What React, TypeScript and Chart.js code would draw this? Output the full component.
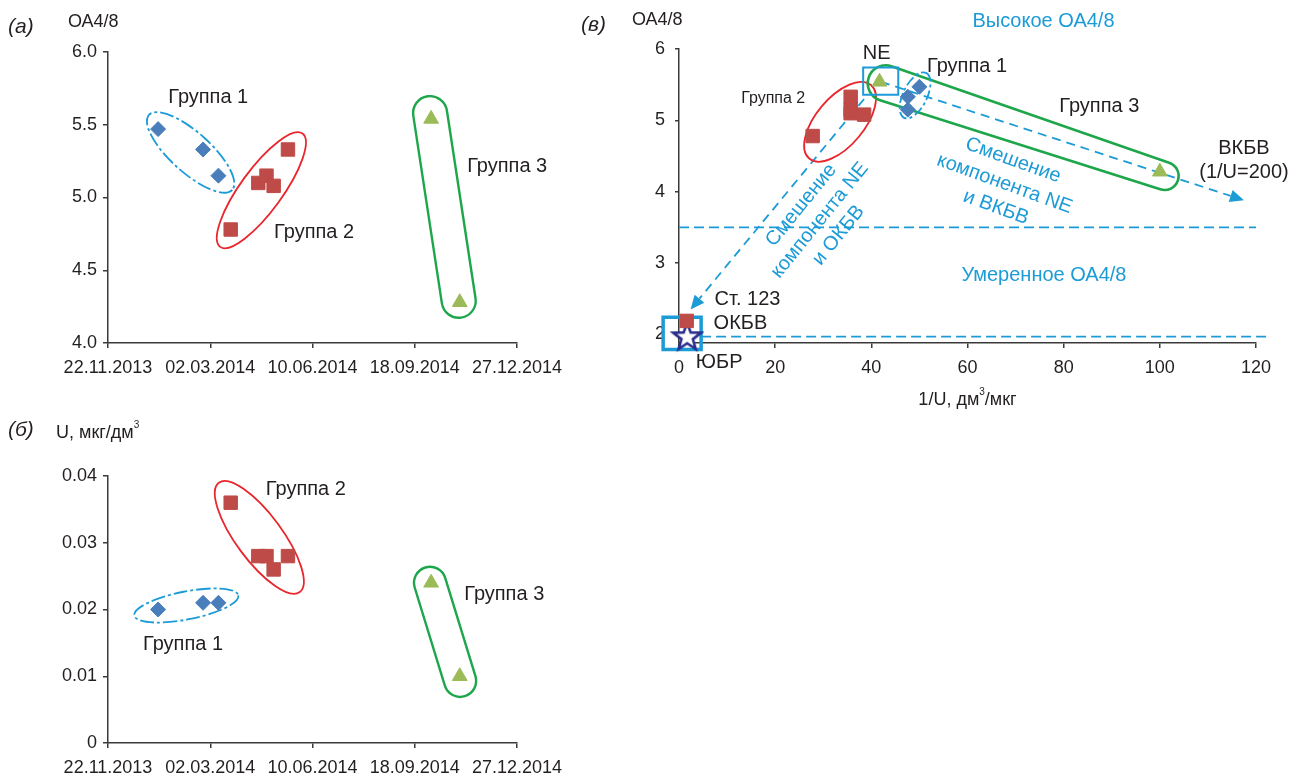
import React, { useEffect, useRef } from 'react';
import { Chart, registerables } from 'chart.js';
Chart.register(...registerables);

// ---------- data ----------
const dateTickLabels = ['22.11.2013', '02.03.2014', '10.06.2014', '18.09.2014', '27.12.2014'];

const group1Dates = ['10.01.2014', '23.02.2014', '10.03.2014'];
const group1OA = [5.47, 5.33, 5.15];
const group1U = [0.02, 0.021, 0.021];
const group1InvU = [50, 47.6, 47.6];

const group2Dates = ['22.03.2014', '18.04.2014', '26.04.2014', '03.05.2014', '17.05.2014'];
const group2OA = [4.78, 5.1, 5.15, 5.08, 5.33];
const group2U = [0.036, 0.028, 0.028, 0.026, 0.028];
const group2InvU = [27.8, 35.7, 35.7, 38.5, 35.7];

const group3Dates = ['04.10.2014', '01.11.2014'];
const group3OA = [5.54, 4.28];
const group3U = [0.024, 0.01];
const group3InvU = [41.7, 100];

const st123InvU = [1.6];
const st123OA = [2.19];
const yubrInvU = [1.7];
const yubrOA = [1.96];

const oaTicksA = [4.0, 4.5, 5.0, 5.5, 6.0];
const uTicksB = [0, 0.01, 0.02, 0.03, 0.04];
const invUTicksC = [0, 20, 40, 60, 80, 100, 120];
const oaTicksC = [2, 3, 4, 5, 6];

// ---------- style ----------
const FONT = "'Liberation Sans', Arial, Helvetica, sans-serif";
const TEXT = '#231f20';
const AXIS = '#3a3a3a';
const C_BLUE_PT = '#4a7ebb';
const C_RED_PT = '#be4b48';
const C_GREEN_PT = '#9bbb59';
const L_BLUE = '#1c9bd7';
const L_RED = '#e8262c';
const L_GREEN = '#1ea64b';

const parseDate = (s: string) => {
  const [d, m, y] = s.split('.').map(Number);
  return Date.UTC(y, m - 1, d);
};
const ORIGIN = parseDate(dateTickLabels[0]);
const dayOf = (s: string) => Math.round((parseDate(s) - ORIGIN) / 86400000);

// ---------- drawing helpers ----------
const P = (chart: any, x: number, y: number): [number, number] => [
  chart.scales.x.getPixelForValue(x),
  chart.scales.y.getPixelForValue(y),
];

function ellipse(ctx: CanvasRenderingContext2D, c: [number, number], a: number, b: number, deg: number, color: string, lw: number, dash: number[] = []) {
  ctx.beginPath();
  ctx.ellipse(c[0], c[1], a, b, (deg * Math.PI) / 180, 0, Math.PI * 2);
  ctx.strokeStyle = color;
  ctx.lineWidth = lw;
  ctx.setLineDash(dash);
  ctx.stroke();
  ctx.setLineDash([]);
}

function capsule(ctx: CanvasRenderingContext2D, p1: [number, number], p2: [number, number], r1: number, r2: number, color: string, lw: number) {
  const ang = Math.atan2(p2[1] - p1[1], p2[0] - p1[0]);
  ctx.beginPath();
  ctx.arc(p1[0], p1[1], r1, ang + Math.PI / 2, ang + (3 * Math.PI) / 2);
  ctx.arc(p2[0], p2[1], r2, ang - Math.PI / 2, ang + Math.PI / 2);
  ctx.closePath();
  ctx.strokeStyle = color;
  ctx.lineWidth = lw;
  ctx.setLineDash([]);
  ctx.stroke();
}

function rectBox(ctx: CanvasRenderingContext2D, p1: [number, number], p2: [number, number], color: string, lw: number) {
  ctx.beginPath();
  ctx.rect(Math.min(p1[0], p2[0]), Math.min(p1[1], p2[1]), Math.abs(p2[0] - p1[0]), Math.abs(p2[1] - p1[1]));
  ctx.strokeStyle = color;
  ctx.lineWidth = lw;
  ctx.setLineDash([]);
  ctx.stroke();
}

function dashedLine(ctx: CanvasRenderingContext2D, p1: [number, number], p2: [number, number], color: string, lw: number, dash: number[]) {
  ctx.beginPath();
  ctx.moveTo(p1[0], p1[1]);
  ctx.lineTo(p2[0], p2[1]);
  ctx.strokeStyle = color;
  ctx.lineWidth = lw;
  ctx.setLineDash(dash);
  ctx.stroke();
  ctx.setLineDash([]);
}

function arrow(ctx: CanvasRenderingContext2D, p1: [number, number], p2: [number, number], color: string, lw: number, dash: number[], head = 14) {
  const ang = Math.atan2(p2[1] - p1[1], p2[0] - p1[0]);
  const hx = p2[0] - head * Math.cos(ang);
  const hy = p2[1] - head * Math.sin(ang);
  dashedLine(ctx, p1, [hx, hy], color, lw, dash);
  const w = head * 0.45;
  ctx.beginPath();
  ctx.moveTo(p2[0], p2[1]);
  ctx.lineTo(hx + w * Math.cos(ang + Math.PI / 2), hy + w * Math.sin(ang + Math.PI / 2));
  ctx.lineTo(hx - w * Math.cos(ang + Math.PI / 2), hy - w * Math.sin(ang + Math.PI / 2));
  ctx.closePath();
  ctx.fillStyle = color;
  ctx.fill();
}

function label(ctx: CanvasRenderingContext2D, s: string, x: number, y: number, opts: any = {}) {
  const { size = 20, color = TEXT, align = 'center', rot = 0, style = '' } = opts;
  ctx.save();
  ctx.translate(x, y);
  ctx.rotate((rot * Math.PI) / 180);
  ctx.font = `${style} ${size}px ${FONT}`;
  ctx.fillStyle = color;
  ctx.textAlign = align;
  ctx.textBaseline = 'middle';
  ctx.fillText(s, 0, 0);
  ctx.restore();
}

function labelWithSup(ctx: CanvasRenderingContext2D, parts: [string, string, string], x: number, y: number, size: number, align: 'left' | 'center') {
  ctx.save();
  ctx.font = `${size}px ${FONT}`;
  const w1 = ctx.measureText(parts[0]).width;
  const w3 = ctx.measureText(parts[2]).width;
  ctx.font = `${Math.round(size * 0.55)}px ${FONT}`;
  const w2 = ctx.measureText(parts[1]).width;
  const total = w1 + w2 + w3;
  const x0 = align === 'center' ? x - total / 2 : x;
  ctx.fillStyle = TEXT;
  ctx.textBaseline = 'middle';
  ctx.textAlign = 'left';
  ctx.font = `${size}px ${FONT}`;
  ctx.fillText(parts[0], x0, y);
  ctx.font = `${Math.round(size * 0.55)}px ${FONT}`;
  ctx.fillText(parts[1], x0 + w1, y - size * 0.42);
  ctx.font = `${size}px ${FONT}`;
  ctx.fillText(parts[2], x0 + w1 + w2, y);
  ctx.restore();
}

function rotatedBlock(ctx: CanvasRenderingContext2D, lines: string[], center: [number, number], rot: number, spacing: number, size: number, color: string) {
  ctx.save();
  ctx.translate(center[0], center[1]);
  ctx.rotate((rot * Math.PI) / 180);
  ctx.font = `${size}px ${FONT}`;
  ctx.fillStyle = color;
  ctx.textAlign = 'center';
  ctx.textBaseline = 'middle';
  const mid = (lines.length - 1) / 2;
  lines.forEach((ln, i) => ctx.fillText(ln, 0, (i - mid) * spacing));
  ctx.restore();
}

function overlay(shapes: (chart: any, ctx: CanvasRenderingContext2D) => void, texts: (chart: any, ctx: CanvasRenderingContext2D) => void) {
  return {
    id: 'overlay',
    beforeDatasetsDraw(chart: any) {
      const ctx = chart.ctx;
      ctx.save();
      shapes(chart, ctx);
      ctx.restore();
    },
    afterDraw(chart: any) {
      const ctx = chart.ctx;
      ctx.save();
      texts(chart, ctx);
      ctx.restore();
    },
  };
}

const pointSet = (label: string, data: any[], style: any, radius: number, color: string) => ({
  label,
  data,
  pointStyle: style,
  pointRadius: radius,
  pointHoverRadius: radius,
  backgroundColor: color,
  borderColor: color,
  borderWidth: 1,
  clip: false,
});

const tickFont = { family: FONT, size: 18 };

function dateAxis(height: number) {
  return {
    type: 'linear',
    min: 0,
    max: dayOf(dateTickLabels[dateTickLabels.length - 1]),
    afterBuildTicks: (axis: any) => {
      axis.ticks = dateTickLabels.map((s) => ({ value: dayOf(s) }));
    },
    ticks: {
      callback: (v: number) => {
        const found = dateTickLabels.find((s) => dayOf(s) === v);
        return found ?? '';
      },
      font: tickFont,
      color: TEXT,
      padding: 9,
      maxRotation: 0,
      autoSkip: false,
    },
    grid: { drawOnChartArea: false, drawTicks: true, tickLength: 5, color: AXIS, lineWidth: 1.5 },
    border: { display: true, color: AXIS, width: 1.5 },
    afterFit: (s: any) => {
      s.height = height;
    },
  };
}

function valueAxis(ticksList: number[], fmt: (v: number) => string, width: number, tickLen: number, pad: number, min?: number) {
  return {
    type: 'linear',
    min: min ?? ticksList[0],
    max: ticksList[ticksList.length - 1],
    afterBuildTicks: (axis: any) => {
      axis.ticks = ticksList.map((v) => ({ value: v }));
    },
    ticks: { callback: (v: number) => fmt(v), font: tickFont, color: TEXT, padding: pad },
    grid: { drawOnChartArea: false, drawTicks: true, tickLength: tickLen, color: AXIS, lineWidth: 1.5 },
    border: { display: true, color: AXIS, width: 1.5 },
    afterFit: (s: any) => {
      s.width = width;
    },
  };
}

// ---------- panel (а) ----------
function configA() {
  return {
    type: 'scatter',
    data: {
      datasets: [
        pointSet('Группа 1', group1Dates.map((d, i) => ({ x: dayOf(d), y: group1OA[i] })), 'rectRot', 7.5, C_BLUE_PT),
        pointSet('Группа 2', group2Dates.map((d, i) => ({ x: dayOf(d), y: group2OA[i] })), 'rect', 9.5, C_RED_PT),
        pointSet('Группа 3', group3Dates.map((d, i) => ({ x: dayOf(d), y: group3OA[i] })), 'triangle', 8.5, C_GREEN_PT),
      ],
    },
    options: {
      responsive: false,
      animation: false,
      devicePixelRatio: 1,
      events: [],
      layout: { padding: { top: 52, right: 63, left: 0, bottom: 0 } },
      plugins: { legend: { display: false }, tooltip: { enabled: false } },
      scales: {
        x: dateAxis(47),
        y: valueAxis(oaTicksA, (v) => v.toFixed(1), 108, 5, 6),
      },
    },
    plugins: [
      overlay(
        (c, ctx) => {
          ellipse(ctx, P(c, 80.8, 5.31), 56, 20, 42, L_BLUE, 1.8, [14, 3, 3, 3]);
          ellipse(ctx, P(c, 150, 5.05), 70, 21, -54, L_RED, 1.8);
          capsule(ctx, P(c, 315, 5.58), P(c, 343, 4.29), 17, 17, L_GREEN, 2.4);
        },
        (c, ctx) => {
          label(ctx, '(а)', 8, 27, { size: 21, style: 'italic', align: 'left' });
          label(ctx, 'ОА4/8', 68, 22, { size: 18, align: 'left' });
          label(ctx, 'Группа 1', ...P(c, 98, 5.69));
          label(ctx, 'Группа 2', ...P(c, 201.6, 4.76));
          label(ctx, 'Группа 3', ...P(c, 390.4, 5.21));
        }
      ),
    ],
  };
}

// ---------- panel (б) ----------
function configB() {
  return {
    type: 'scatter',
    data: {
      datasets: [
        pointSet('Группа 1', group1Dates.map((d, i) => ({ x: dayOf(d), y: group1U[i] })), 'rectRot', 7.5, C_BLUE_PT),
        pointSet('Группа 2', group2Dates.map((d, i) => ({ x: dayOf(d), y: group2U[i] })), 'rect', 9.5, C_RED_PT),
        pointSet('Группа 3', group3Dates.map((d, i) => ({ x: dayOf(d), y: group3U[i] })), 'triangle', 8.5, C_GREEN_PT),
      ],
    },
    options: {
      responsive: false,
      animation: false,
      devicePixelRatio: 1,
      events: [],
      layout: { padding: { top: 76, right: 63, left: 0, bottom: 0 } },
      plugins: { legend: { display: false }, tooltip: { enabled: false } },
      scales: {
        x: dateAxis(33),
        y: valueAxis(uTicksB, (v) => (v === 0 ? '0' : v.toFixed(2)), 108, 5, 6),
      },
    },
    plugins: [
      overlay(
        (c, ctx) => {
          ellipse(ctx, P(c, 76.6, 0.0206), 53, 14, -11, L_BLUE, 1.8, [14, 3, 3, 3]);
          ellipse(ctx, P(c, 148, 0.0308), 68, 23, 53.5, L_RED, 1.8);
          capsule(ctx, P(c, 314.9, 0.024), P(c, 344.4, 0.0093), 16, 16, L_GREEN, 2.4);
        },
        (c, ctx) => {
          label(ctx, '(б)', 8, 30, { size: 21, style: 'italic', align: 'left' });
          labelWithSup(ctx, ['U, мкг/дм', '3', ''], 56, 33, 18, 'left');
          label(ctx, 'Группа 2', ...P(c, 193.5, 0.038));
          label(ctx, 'Группа 1', ...P(c, 73.4, 0.0147));
          label(ctx, 'Группа 3', ...P(c, 387.5, 0.0223));
        }
      ),
    ],
  };
}

// ---------- panel (в) ----------
function makeStar() {
  const cv = document.createElement('canvas');
  const R = 14.5;
  const r = 6;
  cv.width = 34;
  cv.height = 34;
  const g = cv.getContext('2d')!;
  g.beginPath();
  for (let i = 0; i < 10; i++) {
    const rad = i % 2 === 0 ? R : r;
    const a = -Math.PI / 2 + (i * Math.PI) / 5;
    const x = 17 + rad * Math.cos(a);
    const y = 17 + rad * Math.sin(a);
    if (i === 0) g.moveTo(x, y);
    else g.lineTo(x, y);
  }
  g.closePath();
  g.fillStyle = '#ffffff';
  g.fill();
  g.lineWidth = 2.6;
  g.lineJoin = 'miter';
  g.strokeStyle = '#2b2d8c';
  g.stroke();
  return cv;
}

function configC() {
  const star = makeStar();
  return {
    type: 'scatter',
    data: {
      datasets: [
        pointSet('Группа 1', group1InvU.map((x, i) => ({ x, y: group1OA[i] })), 'rectRot', 7.5, C_BLUE_PT),
        pointSet('Группа 2', group2InvU.map((x, i) => ({ x, y: group2OA[i] })), 'rect', 9.5, C_RED_PT),
        pointSet('Группа 3', group3InvU.map((x, i) => ({ x, y: group3OA[i] })), 'triangle', 8.5, C_GREEN_PT),
        pointSet('Ст. 123', st123InvU.map((x, i) => ({ x, y: st123OA[i] })), 'rect', 9.5, C_RED_PT),
        pointSet('ЮБР', yubrInvU.map((x, i) => ({ x, y: yubrOA[i] })), star, 14, '#2b2d8c'),
      ],
    },
    options: {
      responsive: false,
      animation: false,
      devicePixelRatio: 1,
      events: [],
      layout: { padding: { top: 49, right: 45, left: 0, bottom: 0 } },
      plugins: { legend: { display: false }, tooltip: { enabled: false } },
      scales: {
        x: {
          type: 'linear',
          min: invUTicksC[0],
          max: invUTicksC[invUTicksC.length - 1],
          afterBuildTicks: (axis: any) => {
            axis.ticks = invUTicksC.map((v) => ({ value: v }));
          },
          ticks: { font: tickFont, color: TEXT, padding: 9, maxRotation: 0 },
          grid: { drawOnChartArea: false, drawTicks: true, tickLength: 5, color: AXIS, lineWidth: 1.5 },
          border: { display: true, color: AXIS, width: 1.5 },
          afterFit: (s: any) => {
            s.height = 77;
          },
        },
        y: valueAxis(oaTicksC, (v) => String(v), 99, 4, 10, 1.88),
      },
    },
    plugins: [
      overlay(
        (c, ctx) => {
          dashedLine(ctx, P(c, 0, 3.5), P(c, 120, 3.5), L_BLUE, 1.8, [10, 5]);
          dashedLine(ctx, P(c, 4.6, 1.97), P(c, 122.2, 1.97), L_BLUE, 1.8, [10, 5]);
          arrow(ctx, P(c, 42, 5.54), P(c, 117.5, 3.88), L_BLUE, 1.8, [9, 6]);
          arrow(ctx, P(c, 38.5, 5.3), P(c, 2.4, 2.35), L_BLUE, 1.8, [9, 6]);
          ellipse(ctx, P(c, 33.5, 4.98), 48, 24, -50, L_RED, 1.8);
          capsule(ctx, P(c, 43, 5.52), P(c, 101, 4.22), 18, 14, L_GREEN, 2.6);
          ellipse(ctx, P(c, 49.1, 5.35), 25, 12, -64, L_BLUE, 1.8, [10, 3, 3, 3]);
          rectBox(ctx, P(c, 38.3, 5.74), P(c, 45.6, 5.36), L_BLUE, 2);
          rectBox(ctx, P(c, -3.3, 2.24), P(c, 4.6, 1.79), L_BLUE, 3.5);
        },
        (c, ctx) => {
          label(ctx, '(в)', 1, 25, { size: 21, style: 'italic', align: 'left' });
          label(ctx, 'ОА4/8', 52, 20, { size: 18, align: 'left' });
          label(ctx, 'Высокое ОА4/8', ...P(c, 75.8, 6.39), { color: L_BLUE });
          label(ctx, 'Умеренное ОА4/8', ...P(c, 75.9, 2.82), { color: L_BLUE });
          label(ctx, 'Группа 1', ...P(c, 59.9, 5.76));
          label(ctx, 'Группа 2', ...P(c, 19.6, 5.31), { size: 16 });
          label(ctx, 'Группа 3', ...P(c, 87.4, 5.2));
          label(ctx, 'ВКБВ', ...P(c, 117.5, 4.6));
          label(ctx, '(1/U=200)', ...P(c, 117.5, 4.27));
          label(ctx, 'NE', ...P(c, 41.1, 5.94));
          label(ctx, 'Ст. 123', ...P(c, 7.4, 2.49), { align: 'left' });
          label(ctx, 'ОКБВ', ...P(c, 7.2, 2.15), { align: 'left' });
          label(ctx, 'ЮБР', ...P(c, 3.5, 1.6), { align: 'left' });
          rotatedBlock(ctx, ['Смешение', 'компонента NE', 'и ОКБВ'], P(c, 29.3, 3.6), -51, 24, 20, L_BLUE);
          rotatedBlock(ctx, ['Смешение', 'компонента NE', 'и ВКБВ'], P(c, 67.7, 4.11), 20, 25, 20, L_BLUE);
          labelWithSup(ctx, ['1/U, дм', '3', '/мкг'], c.chartArea.left + (c.chartArea.right - c.chartArea.left) / 2, 400, 18, 'center');
        }
      ),
    ],
  };
}

function ChartCanvas({ make, left, top, width, height }: any) {
  const ref = useRef<HTMLCanvasElement | null>(null);
  useEffect(() => {
    const chart = new Chart(ref.current as HTMLCanvasElement, make());
    return () => chart.destroy();
  }, []);
  return <canvas ref={ref} width={width} height={height} style={{ position: 'absolute', left, top, width, height }} />;
}

export default function App() {
  return (
    <div style={{ position: 'absolute', left: 0, top: 0, width: 1301, height: 776, background: '#ffffff', overflow: 'hidden' }}>
      <ChartCanvas make={configA} left={0} top={0} width={580} height={390} />
      <ChartCanvas make={configB} left={0} top={400} width={580} height={376} />
      <ChartCanvas make={configC} left={580} top={0} width={721} height={420} />
    </div>
  );
}
